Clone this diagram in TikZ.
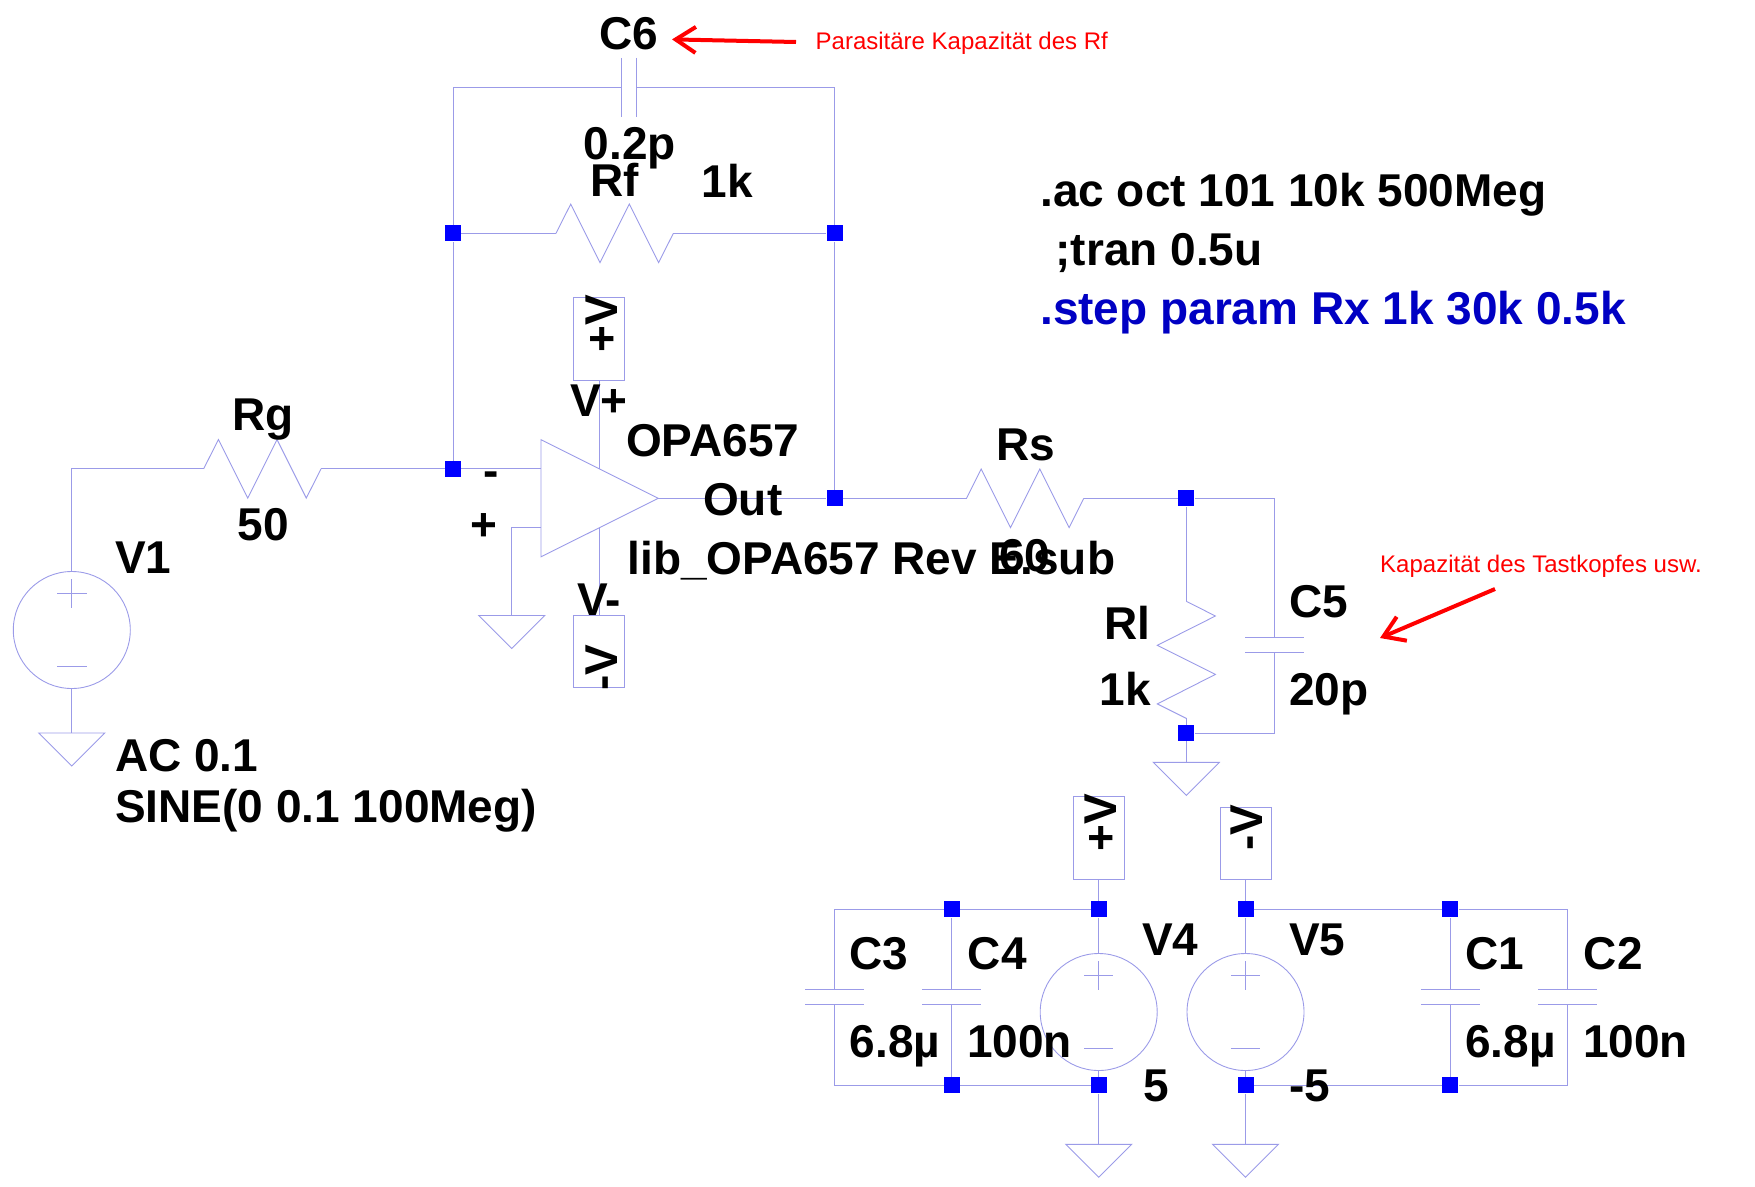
\documentclass[tikz,border=0pt]{standalone}
\usepackage{fontspec}
\setmainfont{Liberation Sans}
\usetikzlibrary{arrows.meta}
\definecolor{wirecol}{RGB}{155,155,232}
\definecolor{dirblue}{RGB}{0,0,195}
\tikzset{
	wire/.style={wirecol, line width=0.9pt},
	junc/.style={fill=blue, inner sep=0pt, minimum width=16pt, minimum height=16pt},
	flagtxt/.style={anchor=base west, inner sep=0pt, font=\fontsize{46}{50}\selectfont\bfseries, rotate=90},
	lab/.style={anchor=base west, inner sep=0pt, font=\fontsize{46}{50}\selectfont\bfseries, xshift=-1pt, yshift=-1.5pt},
	note/.style={anchor=base west, inner sep=0pt, red, font=\fontsize{24}{26}\selectfont},
	flagbox/.style={draw=wirecol, line width=0.9pt, inner sep=0pt, minimum width=51pt},
	src/.style={draw=wirecol, line width=0.9pt, circle, inner sep=0pt, minimum size=117pt},
	redarrow/.style={red, line width=4pt, -{Straight Barb[length=20pt,width=26pt,line width=4pt]}},
	gnd/.pic={\draw[wire] (-33,0) -- (33,0) -- (0,33) -- cycle;},
	hres/.pic={\draw[wire] (0,0) -- (14.7,-29.3) -- (44,29.3) -- (73.3,-29.3) -- (102.6,29.3) -- (117.3,0);},
	vres/.pic={\draw[wire] (0,0) -- (29.1,14.7) -- (-29,44) -- (29.1,73.1) -- (-29,102.6) -- (0,117.1);},
	hcap/.pic={\draw[wire] (-29.5,-7.3) -- (29.5,-7.3) (-29.5,7.3) -- (29.5,7.3);},
	vcap/.pic={\draw[wire] (-7.2,-29.5) -- (-7.2,29.5) (7.2,-29.5) -- (7.2,29.5);},
	srcmarks/.pic={\draw[wire] (-14.7,-36.4) -- (14.7,-36.4) (0,-51) -- (0,-22) (-14.7,36.4) -- (14.7,36.4);},
}
\begin{document}
\begin{tikzpicture}[x=1pt,y=-1pt]
	\useasboundingbox (0,0) rectangle (1755,1186);
	%
	% corners and pins
	\coordinate (topL) at (453,87.3);
	\coordinate (topR) at (834.5,87.3);
	\coordinate (C6a) at (621.8,87.3);
	\coordinate (C6b) at (636.2,87.3);
	\coordinate (RfA) at (556,233.4);
	\coordinate (RfB) at (673.3,233.4);
	\coordinate (RgA) at (203.7,468.8);
	\coordinate (RgB) at (321,468.8);
	\coordinate (RsA) at (966.5,498.3);
	\coordinate (RsB) at (1083.8,498.3);
	\coordinate (RlA) at (1186.3,601.3);
	\coordinate (RlB) at (1186.3,718.4);
	\coordinate (inN) at (541,468.8);
	\coordinate (inP) at (541,527.4);
	\coordinate (out) at (658.3,498.3);
	\coordinate (supP) at (599.4,468.9);
	\coordinate (supN) at (599.4,527.7);
	\coordinate (pBend) at (511.8,527.4);
	\coordinate (V1top) at (71.8,468.8);
	\coordinate (C5top) at (1274.5,498.3);
	\coordinate (C5bot) at (1274.5,733);
	\coordinate (C5a) at (1274.5,637.3);
	\coordinate (C5b) at (1274.5,652);
	\coordinate (gV1) at (71.8,733);
	\coordinate (gIn) at (511.8,615.5);
	\coordinate (gRl) at (1186.3,762.4);
	\coordinate (gV4) at (1098.7,1144.3);
	\coordinate (gV5) at (1245.5,1144.3);
	%
	% junctions
	\foreach \name/\x/\y in {jRfL/453/233.4,jRfR/834.5/233.4,jIn/453/468.8,jOut/834.5/498.3,jRs/1186.3/498.3,
		jRl/1186.3/733,jC4t/951.9/909.4,jV4t/1098.7/909.4,jV5t/1245.5/909.4,jC1t/1450.3/909.4,
		jC4b/951.9/1085.4,jV4b/1098.7/1085.4,jV5b/1245.5/1085.4,jC1b/1450.3/1085.4}
		\node[junc] (\name) at (\x,\y) {};
	%
	% sources and supply flags
	\node[src] (V1) at (71.8,630) {};
	\node[src] (V4) at (1098.7,1012) {};
	\node[src] (V5) at (1245.5,1012) {};
	\pic at (V1) {srcmarks};
	\pic at (V4) {srcmarks};
	\pic at (V5) {srcmarks};
	\node[flagbox, minimum height=83pt] (fP) at (599.4,338.9) {};
	\node[flagbox, minimum height=72pt] (fN) at (599.4,651.9) {};
	\node[flagbox, minimum height=83pt] (fP2) at (1098.7,838) {};
	\node[flagbox, minimum height=72pt] (fN2) at (1245.5,843.4) {};
	%
	% feedback
	\draw[wire] (jIn) -- (jRfL) -- (topL) -- (C6a);
	\draw[wire] (C6b) -- (topR) -- (jRfR) -- (jOut);
	\draw[wire] (jRfL) -- (RfA) (RfB) -- (jRfR);
	\pic at (RfA) {hres};
	\pic at (629,87.3) {vcap};
	%
	% op amp
	\draw[wire] (541,439.7) -- (out) -- (541,556.8) -- cycle;
	\draw[wire] (fP.south) -- (supP);
	\draw[wire] (supN) -- (fN.north);
	\draw[wire] (jIn) -- (inN);
	\draw[wire] (inP) -- (pBend) -- (gIn);
	\draw[wire] (out) -- (jOut) -- (RsA);
	\pic at (gIn) {gnd};
	%
	% input
	\draw[wire] (V1.north) -- (V1top) -- (RgA);
	\draw[wire] (RgB) -- (jIn);
	\draw[wire] (V1.south) -- (gV1);
	\pic at (RgA) {hres};
	\pic at (gV1) {gnd};
	%
	% load
	\pic at (RsA) {hres};
	\draw[wire] (RsB) -- (jRs) -- (C5top) -- (C5a);
	\draw[wire] (C5b) -- (C5bot) -- (jRl);
	\draw[wire] (jRs) -- (RlA);
	\draw[wire] (RlB) -- (jRl) -- (gRl);
	\pic at (RlA) {vres};
	\pic at (1274.5,644.7) {hcap};
	\pic at (gRl) {gnd};
	%
	% supplies
	\draw[wire] (fP2.south) -- (jV4t) -- (V4.north);
	\draw[wire] (V4.south) -- (jV4b) -- (gV4);
	\draw[wire] (fN2.south) -- (jV5t) -- (V5.north);
	\draw[wire] (V5.south) -- (jV5b) -- (gV5);
	\pic at (gV4) {gnd};
	\pic at (gV5) {gnd};
	\draw[wire] (jV4t) -- (jC4t) -- (834.5,909.4) -- (834.5,989.7);
	\draw[wire] (834.5,1004.3) -- (834.5,1085.4) -- (jC4b) -- (jV4b);
	\draw[wire] (jC4t) -- (951.9,989.7) (951.9,1004.3) -- (jC4b);
	\draw[wire] (jV5t) -- (jC1t) -- (1567.5,909.4) -- (1567.5,989.7);
	\draw[wire] (1567.5,1004.3) -- (1567.5,1085.4) -- (jC1b) -- (jV5b);
	\draw[wire] (jC1t) -- (1450.3,989.7) (1450.3,1004.3) -- (jC1b);
	\foreach \x in {834.5,951.9,1450.3,1567.5}
		\pic at (\x,997) {hcap};
	%
	% labels
	\node[lab] (lC6) at (600,47.8) {C6};
	\node[lab] (l02p) at (584.6,157.7) {0.2p};
	\node[lab] (lRf) at (591,195.2) {Rf};
	\node[lab] (lRf1k) at (702.6,196) {1k};
	\node[lab] (lVp) at (571,415) {V+};
	\node[lab] (lOPA) at (627,454.6) {OPA657};
	\node[lab] (lOut) at (704,513.6) {Out};
	\node[lab] (llib) at (628.5,573.3) {lib\_OPA657 Rev E.sub};
	\node[lab] (lRg) at (233,429.4) {Rg};
	\node[lab] (l50) at (238.5,538.8) {50};
	\node[lab] (lV1) at (116,572) {V1};
	\node[lab] (lmin) at (484,485) {-};
	\node[lab] (lplu) at (471,539) {+};
	\node[lab] (lVm) at (578,613.5) {V-};
	\node[lab] (lRs) at (997,458.5) {Rs};
	\node[lab] (l60) at (1000,569.5) {60};
	\node[lab] (lC5) at (1290,616) {C5};
	\node[lab] (l20p) at (1290,704) {20p};
	\node[lab] (lRl) at (1105,637.7) {Rl};
	\node[lab] (lRl1k) at (1100.5,704) {1k};
	\node[lab] (lC3) at (850,968) {C3};
	\node[lab] (lC4) at (968.6,968) {C4};
	\node[lab] (lC1) at (1466,968) {C1};
	\node[lab] (lC2) at (1584.6,968) {C2};
	\node[lab] (lv3) at (850.5,1056) {6.8µ};
	\node[lab] (lv4) at (968,1056) {100n};
	\node[lab] (lv1) at (1466,1056) {6.8µ};
	\node[lab] (lv2) at (1584,1056) {100n};
	\node[lab] (lV4) at (1143,954) {V4};
	\node[lab] (lV5) at (1290,954) {V5};
	\node[lab] (lv5) at (1144,1100) {5};
	\node[lab] (lvm5) at (1290,1100) {-5};
	\node[lab] (lAC) at (116,770) {AC 0.1};
	\node[lab] (lSINE) at (116,821.4) {SINE(0 0.1 100Meg)};
	\node[flagtxt] (tP) at (617.3,353) {+V};
	\node[flagtxt] (tN) at (617.3,691) {-V};
	\node[flagtxt] (tP2) at (1116,852) {+V};
	\node[flagtxt] (tN2) at (1262,851) {-V};
	%
	% directives
	\node[lab] (dAc) at (1041,204.5) {.ac oct 101 10k 500Meg};
	\node[lab] (dTran) at (1056.4,264) {;tran 0.5u};
	\node[lab, text=dirblue] (dStep) at (1041,323.4) {.step param Rx 1k 30k 0.5k};
	%
	% red notes
	\node[note] (nC6) at (815.5,49) {Parasitäre Kapazität des Rf};
	\node[note] (nC5) at (1380,572) {Kapazität des Tastkopfes usw.};
	\coordinate (aC6s) at (796,42);
	\coordinate (aC6e) at (672,39.4);
	\coordinate (aC5s) at (1495,589);
	\coordinate (aC5e) at (1380,638);
	\draw[redarrow] (aC6s) -- (aC6e);
	\draw[redarrow] (aC5s) -- (aC5e);
\end{tikzpicture}
\end{document}
